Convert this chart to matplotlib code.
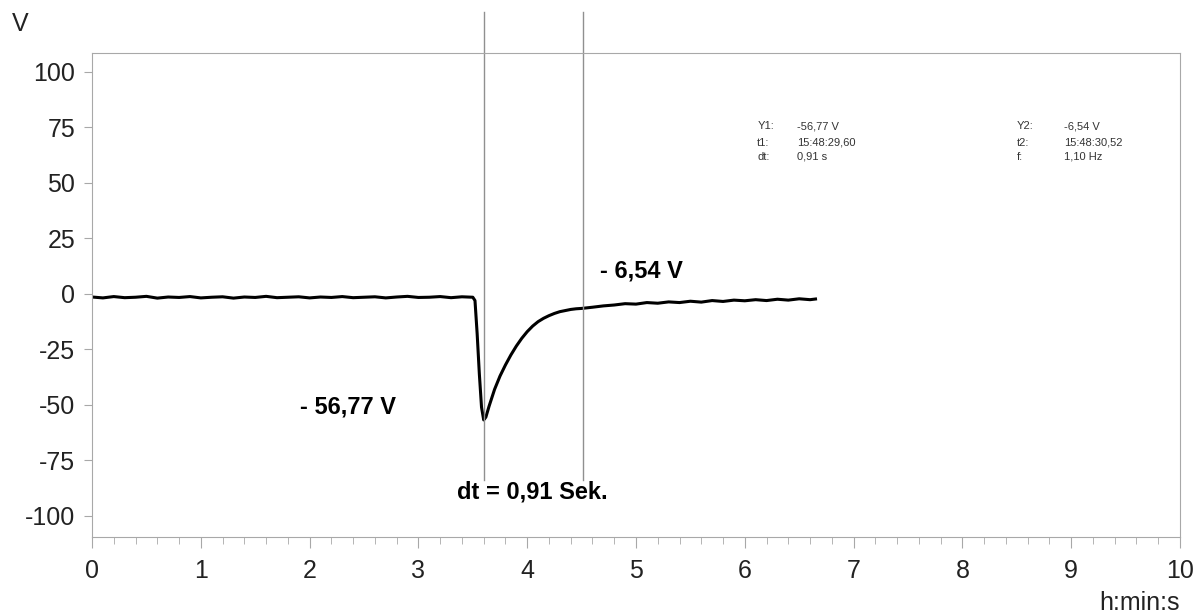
import matplotlib.pyplot as plt
from matplotlib.ticker import MultipleLocator

plt.rcParams['font.family'] = ['Liberation Sans', 'DejaVu Sans']
plt.rcParams['axes.unicode_minus'] = False

# readings taken off the trace (time in s, voltage in V)
t_base = [0.0, 0.1, 0.2, 0.3, 0.4, 0.5, 0.6, 0.7, 0.8, 0.9, 1.0, 1.1, 1.2, 1.3,
          1.4, 1.5, 1.6, 1.7, 1.8, 1.9, 2.0, 2.1, 2.2, 2.3, 2.4, 2.5, 2.6, 2.7,
          2.8, 2.9, 3.0, 3.1, 3.2, 3.3, 3.4, 3.5]
v_base = [-1.4, -1.8, -1.2, -1.7, -1.5, -1.1, -1.9, -1.4, -1.6, -1.2, -1.8, -1.5,
          -1.3, -1.9, -1.4, -1.6, -1.1, -1.7, -1.5, -1.3, -1.8, -1.4, -1.6, -1.2,
          -1.7, -1.5, -1.3, -1.8, -1.4, -1.1, -1.6, -1.5, -1.2, -1.7, -1.3, -1.5]
t_pulse = [3.52, 3.54, 3.56, 3.58, 3.60, 3.62, 3.65, 3.70, 3.75, 3.80, 3.85, 3.90,
           3.95, 4.00, 4.05, 4.10, 4.15, 4.20, 4.25, 4.30, 4.35, 4.40, 4.45, 4.50]
v_pulse = [-3.0, -18.0, -36.0, -51.0, -56.77, -55.5, -50.5, -43.0, -37.0, -32.0,
           -27.5, -23.5, -20.0, -17.0, -14.5, -12.5, -11.0, -9.8, -8.8, -8.0,
           -7.5, -7.0, -6.7, -6.54]
t_tail = [4.6, 4.7, 4.8, 4.9, 5.0, 5.1, 5.2, 5.3, 5.4, 5.5, 5.6, 5.7, 5.8, 5.9,
          6.0, 6.1, 6.2, 6.3, 6.4, 6.5, 6.6, 6.65]
v_tail = [-6.0, -5.4, -5.0, -4.4, -4.6, -3.9, -4.2, -3.6, -3.9, -3.3, -3.7, -3.0,
          -3.4, -2.8, -3.1, -2.6, -3.0, -2.4, -2.8, -2.2, -2.6, -2.3]

cursor_t = [3.60, 4.51]
y_ticks = [-100, -75, -50, -25, 0, 25, 50, 75, 100]
x_ticks = [0, 1, 2, 3, 4, 5, 6, 7, 8, 9, 10]

t = t_base + t_pulse + t_tail
v = v_base + v_pulse + v_tail

fig = plt.figure(figsize=(12, 6.15), dpi=100)
ax = fig.add_axes([0.0767, 0.1268, 0.9066, 0.787])

ax.plot(t, v, color='black', lw=2.2)

for c in cursor_t:
    ax.axvline(c, ymin=0.118, ymax=1.085, color='#909090', lw=1, clip_on=False)

ax.set_xlim(0, 10)
ax.set_ylim(-109.5, 108.5)
ax.set_xticks(x_ticks)
ax.set_yticks(y_ticks)
ax.xaxis.set_minor_locator(MultipleLocator(0.2))

grey = '#a8a8a8'
for s in ax.spines.values():
    s.set_color(grey)
ax.tick_params(axis='both', colors=grey, labelcolor='#222222', labelsize=18)
ax.tick_params(axis='x', which='major', length=8, pad=8)
ax.tick_params(axis='x', which='minor', length=5, colors=grey)
ax.tick_params(axis='y', length=6, pad=6)

fig.text(0.010, 0.950, 'V', fontsize=18, color='#222222')
fig.text(0.983, 0.008, 'h:min:s', fontsize=18, color='#222222', ha='right')

ax.text(2.35, -51, '- 56,77 V', fontsize=17, fontweight='bold', ha='center', va='center')
ax.text(4.67, 10.5, '- 6,54 V', fontsize=17, fontweight='bold', ha='left', va='center')
ax.text(4.05, -89, 'dt = 0,91 Sek.', fontsize=17, fontweight='bold', ha='center', va='center')

# cursor info block
info = [('Y1:', '-56,77 V', 'Y2:', '-6,54 V'),
        ('t1:', '15:48:29,60', 't2:', '15:48:30,52'),
        ('dt:', '0,91 s', 'f:', '1,10 Hz')]
rows_y = [0.795, 0.768, 0.745]
for (a, b, c, d), yy in zip(info, rows_y):
    fig.text(0.631, yy, a, fontsize=8, color='#333333', va='center')
    fig.text(0.664, yy, b, fontsize=8, color='#333333', va='center')
    fig.text(0.847, yy, c, fontsize=8, color='#333333', va='center')
    fig.text(0.887, yy, d, fontsize=8, color='#333333', va='center')

fig.savefig('out.png', dpi=100)
